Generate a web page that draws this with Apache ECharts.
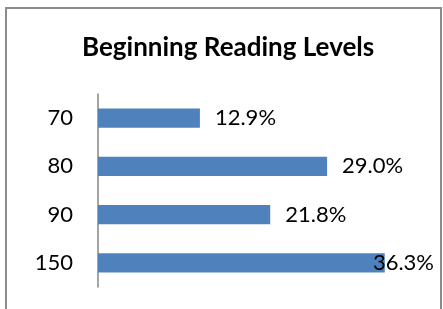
<!DOCTYPE html>
<html>
<head>
<meta charset="utf-8">
<script src="https://cdn.jsdelivr.net/npm/echarts@6/dist/echarts.min.js"></script>
<style>
html,body{margin:0;padding:0;background:#fff;}
#chart{width:443px;height:309px;}
</style>
</head>
<body>
<div id="chart"></div>
<script>
// 阅读水平分布
var levels = ['70', '80', '90', '150'];
var percents = [12.9, 29.0, 21.8, 36.3];

var chart = echarts.init(document.getElementById('chart'));
var labelRightLimit = 434;

chart.setOption({
  animation: false,
  textStyle: { fontFamily: 'Lato' },
  title: {
    text: 'Beginning Reading Levels',
    left: 77,
    top: 30,
    textStyle: { fontFamily: 'Lato', fontWeight: 'bold', fontSize: 26, color: '#000' }
  },
  graphic: [{
    type: 'rect',
    shape: { x: 6, y: 8, width: 435, height: 330 },
    style: { fill: 'none', stroke: '#8c8c8c', lineWidth: 2 },
    silent: true
  }],
  grid: { left: 98, top: 94, width: 316, height: 193 },
  xAxis: {
    type: 'value',
    min: 0,
    max: 40,
    show: false
  },
  yAxis: {
    type: 'category',
    data: levels,
    inverse: true,
    axisLine: { lineStyle: { color: '#868686', width: 1.5 } },
    axisTick: { show: false },
    axisLabel: { color: '#000', fontSize: 22, margin: 25, fontFamily: 'Lato' }
  },
  series: [{
    type: 'bar',
    data: percents,
    barWidth: '40%',
    itemStyle: { color: '#4F81BD' },
    label: {
      show: true,
      position: 'right',
      distance: 15,
      color: '#000',
      fontSize: 22,
      fontFamily: 'Lato',
      formatter: function (p) { return p.value.toFixed(1) + '%'; }
    }
  }],
  labelLayout: function (params) {
    var r = params.labelRect;
    if (r.x + r.width > labelRightLimit) {
      return { x: labelRightLimit - r.width, y: r.y + r.height / 2, align: 'left', verticalAlign: 'middle' };
    }
    return {};
  }
});
</script>
</body>
</html>
